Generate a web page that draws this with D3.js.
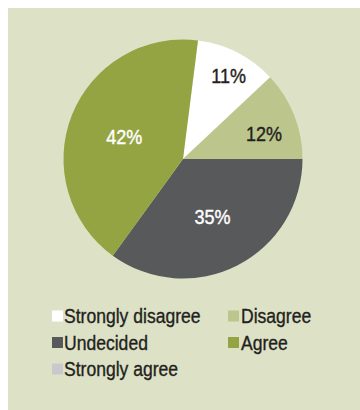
<!DOCTYPE html>
<html>
<head>
<meta charset="utf-8">
<script src="https://cdn.jsdelivr.net/npm/d3@7"></script>
<style>
  html, body { margin: 0; padding: 0; background: #ffffff; }
  svg { display: block; }
  text { font-family: "Liberation Sans", Arial, sans-serif; }
</style>
</head>
<body>
<svg id="chart" width="360" height="410"></svg>
<script>
// Survey responses (percent of respondents)
const categories = ["Strongly disagree", "Disagree", "Undecided", "Agree", "Strongly agree"];
const values = [11, 12, 35, 42, 0];
const colors = ["#ffffff", "#bcc68c", "#58595b", "#94a443", "#c8c9cc"];
const labelColors = ["#231f20", "#231f20", "#ffffff", "#ffffff", "#231f20"];

const W = 360, H = 410;
const svg = d3.select("#chart");

// panel background
svg.append("rect")
  .attr("x", 8).attr("y", 8)
  .attr("width", W - 8).attr("height", H - 8)
  .attr("fill", "#dde2c6");

const cx = 183, cy = 159, R = 119.5;
const start = 7.2 * Math.PI / 180;

const pie = d3.pie().sort(null).value(d => d.value)
  .startAngle(start).endAngle(start + 2 * Math.PI);
const data = categories.map((c, i) => ({ name: c, value: values[i], color: colors[i], lc: labelColors[i] }));
const arcs = pie(data);

const arc = d3.arc().innerRadius(0).outerRadius(R);

const g = svg.append("g").attr("transform", `translate(${cx},${cy})`);

g.selectAll("path.slice")
  .data(arcs.filter(d => d.data.value > 0))
  .join("path")
  .attr("class", "slice")
  .attr("d", arc)
  .attr("fill", d => d.data.color);

// value labels: placed along each slice's mid-angle
const labelRadius = [94, 85, 65, 62, 80];
const labelNudge = [[3, 1], [2, 6], [0, 0], [-1, 1], [0, 0]];
const labelSize = 20;
g.selectAll("text.val")
  .data(arcs.filter(d => d.data.value > 0))
  .join("text")
  .attr("class", "val")
  .attr("transform", d => {
    const i = d.index;
    const a = (d.startAngle + d.endAngle) / 2;
    const x = labelRadius[i] * Math.sin(a) + labelNudge[i][0];
    const y = -labelRadius[i] * Math.cos(a) + labelNudge[i][1] + labelSize * 0.36;
    return `translate(${x},${y}) scale(0.9,1)`;
  })
  .attr("text-anchor", "middle")
  .attr("font-size", labelSize)
  .attr("fill", d => d.data.lc)
  .attr("stroke", d => d.data.lc)
  .attr("stroke-width", 0.4)
  .text(d => d.data.value + "%");

// legend: two columns
const legX = [52, 228], legY0 = 316, legDy = 26.5, sw = 11;
const leg = svg.append("g").selectAll("g")
  .data(data)
  .join("g")
  .attr("transform", (d, i) => `translate(${legX[i % 2]},${legY0 + Math.floor(i / 2) * legDy})`);

leg.append("rect")
  .attr("x", 0).attr("y", -sw / 2)
  .attr("width", sw).attr("height", sw)
  .attr("fill", d => d.color);

leg.append("text")
  .attr("transform", (d, i) => `translate(${i % 2 ? 13 : 12},${19.5 * 0.36}) scale(0.9,1)`)
  .attr("font-size", 19.5)
  .attr("fill", "#231f20")
  .attr("stroke", "#231f20")
  .attr("stroke-width", 0.35)
  .text(d => d.name);
</script>
</body>
</html>
